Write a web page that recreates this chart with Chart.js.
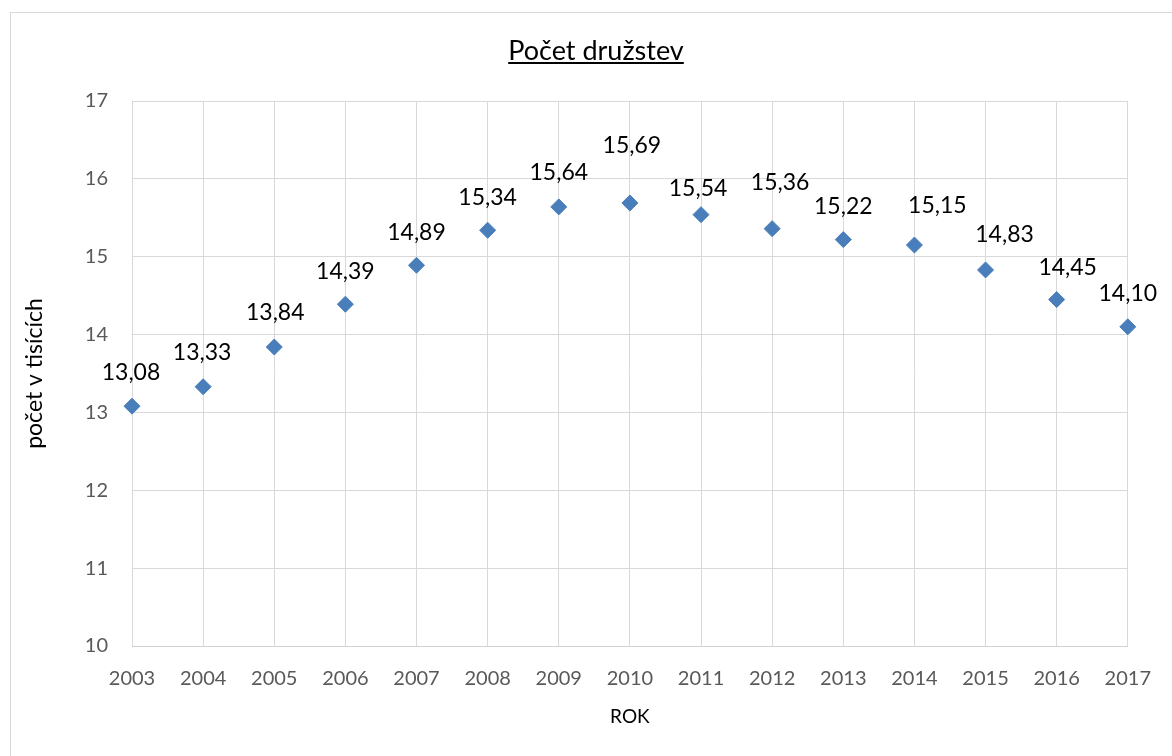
<!DOCTYPE html>
<html>
<head>
<meta charset="utf-8">
<script src="https://cdn.jsdelivr.net/npm/chart.js@4/dist/chart.umd.min.js"></script>
<style>
  html, body { margin: 0; padding: 0; background: #fff; }
  #wrap { width: 1172px; height: 756px; position: relative; }
</style>
</head>
<body>
<div id="wrap"><canvas id="c" width="1172" height="756"></canvas></div>
<script>
const years = ['2003','2004','2005','2006','2007','2008','2009','2010','2011','2012','2013','2014','2015','2016','2017'];
const counts = [13.08, 13.33, 13.84, 14.39, 14.89, 15.34, 15.64, 15.69, 15.54, 15.36, 15.22, 15.15, 14.83, 14.45, 14.10];
const chartTitle = 'Počet družstev';
const yTitle = 'počet v tisících';
const xTitle = 'ROK';

// manual nudges of the value labels (pixels), as placed in the original
const labelDx = [-1, -1, 1, 0, 0, 0, 0, 2, -3, 8, 0, 23, 19, 11, 0];
const labelDy = [34, 34, 34, 33, 33, 33, 34, 57, 26, 46, 33, 39, 35, 32, 33];

const FONT = 'Lato, "Open Sans", sans-serif';

const decor = {
  id: 'decor',
  beforeDraw(chart) {
    const ctx = chart.ctx;
    ctx.save();
    ctx.fillStyle = '#fff';
    ctx.fillRect(0, 0, chart.width, chart.height);
    ctx.strokeStyle = '#d9d9d9';
    ctx.lineWidth = 1;
    ctx.strokeRect(10.5, 12.5, 1400, 1000);
    ctx.restore();
  },
  afterDraw(chart) {
    const ctx = chart.ctx;
    ctx.save();
    ctx.font = '27px ' + FONT;
    ctx.fillStyle = '#000';
    ctx.textAlign = 'center';
    ctx.textBaseline = 'alphabetic';
    const cx = 596, by = 60;
    ctx.fillText(chartTitle, cx, by);
    const w = ctx.measureText(chartTitle).width;
    ctx.fillRect(cx - w / 2, by + 2, w, 2);
    ctx.restore();
  },
  afterDatasetsDraw(chart) {
    const ctx = chart.ctx;
    const meta = chart.getDatasetMeta(0);
    ctx.save();
    ctx.font = '23px ' + FONT;
    ctx.fillStyle = '#000';
    ctx.textAlign = 'center';
    ctx.textBaseline = 'middle';
    meta.data.forEach((pt, i) => {
      const txt = counts[i].toFixed(2).replace('.', ',');
      ctx.fillText(txt, pt.x + labelDx[i], pt.y - labelDy[i]);
    });
    ctx.restore();
  }
};

new Chart(document.getElementById('c'), {
  type: 'line',
  data: {
    labels: years,
    datasets: [{
      data: counts,
      showLine: false,
      pointStyle: 'rectRot',
      pointRadius: 8,
      pointHoverRadius: 8,
      backgroundColor: '#4A7EBB',
      borderColor: '#4A7EBB',
      pointBorderWidth: 1
    }]
  },
  options: {
    responsive: false,
    animation: false,
    events: [],
    layout: { padding: { left: 10, right: 43, top: 101, bottom: 0 } },
    plugins: { legend: { display: false }, title: { display: false }, tooltip: { enabled: false } },
    scales: {
      x: {
        offset: false,
        grid: { color: '#d9d9d9', drawTicks: false },
        border: { color: '#d0d0d0' },
        ticks: { color: '#595959', font: { family: FONT, size: 20 }, padding: 21, maxRotation: 0, autoSkip: false },
        title: { display: true, text: xTitle, color: '#000', font: { family: FONT, size: 19 }, padding: { top: 0, bottom: 28 } },
        afterFit(s) { s.height = 110; }
      },
      y: {
        min: 10, max: 17,
        grid: { color: '#d9d9d9', drawTicks: false },
        border: { display: false },
        ticks: { stepSize: 1, color: '#595959', font: { family: FONT, size: 20 }, padding: 24 },
        title: { display: true, text: yTitle, color: '#000', font: { family: FONT, size: 23 }, padding: { top: 11, bottom: 0 } },
        afterFit(s) { s.width = 122; }
      }
    }
  },
  plugins: [decor]
});
</script>
</body>
</html>
